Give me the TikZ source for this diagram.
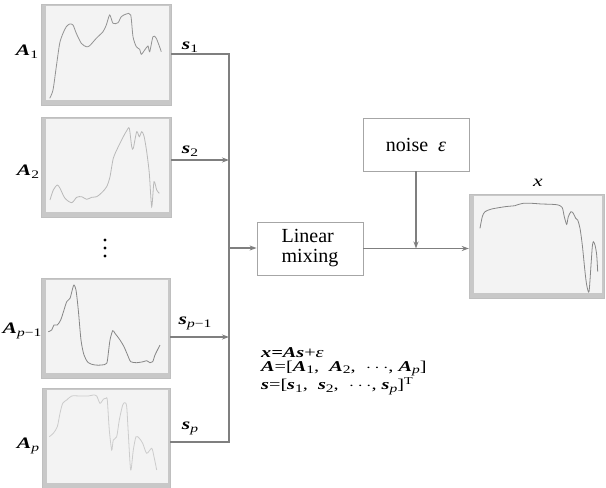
\documentclass[tikz,border=0pt]{standalone}
\usepackage{fontspec}
\setmainfont{Liberation Serif}
\usetikzlibrary{arrows.meta}
\definecolor{wiregray}{HTML}{7F7F7F}
\definecolor{framegray}{HTML}{C8C8C8}
\definecolor{areagray}{HTML}{F3F3F3}
\newcommand{\bi}[1]{\textbf{\textit{#1}}}
\newcommand{\sbs}[1]{\raisebox{-0.4ex}{\fontsize{11.5}{11.5}\selectfont #1}}
\newcommand{\wide}[1]{\scalebox{1.35}[1]{#1}}

\begin{document}
\begin{tikzpicture}[x=1pt,y=-1pt,
  spec/.style={draw=gray!50,fill=framegray,inner sep=0pt},
  wire/.style={wiregray,line width=1.2pt},
  feed/.style={wire,-{Stealth[length=7pt,width=5pt]}},
  blk/.style={draw=gray!70,line width=0.8pt,fill=white,inner sep=0pt,
    minimum width=106pt,minimum height=53pt,align=left,
    font=\fontsize{20}{20}\selectfont},
  lbl/.style={inner sep=0pt,font=\fontsize{16}{16}\selectfont},
  curve/.style={line width=0.8pt,smooth,tension=0.45}]
\useasboundingbox (0,0) rectangle (606,488);

% spectra
\node[spec,minimum width=130pt,minimum height=101pt] (A1) at (106,54.5) {};
\node[spec,minimum width=130pt,minimum height=100pt] (A2) at (106,167) {};
\node[spec,minimum width=129pt,minimum height=100pt] (Ap1) at (105.5,328) {};
\node[spec,minimum width=128pt,minimum height=100pt] (Ap) at (106,438) {};
\node[spec,minimum width=135pt,minimum height=104pt] (X) at (536.5,246) {};
\foreach \p in {A1,A2,Ap1,Ap,X}
{
  \fill[areagray] ([shift={(5pt,-2pt)}]\p.north west) rectangle ([shift={(-2pt,5pt)}]\p.south east);
}

\draw[curve,gray!85] plot coordinates {(49.7,98.3) (53,90) (56.3,66.7) (59.7,43.3) (63,33.3)
  (66.3,26.7) (69.7,24) (73,25) (76.3,33.3) (81.3,43.3) (86.3,46.7) (89.7,45.7) (96.3,38.3)
  (103,31.7) (106.3,25) (109.7,15) (113,23.3) (118,22.7) (121.3,16.7) (126.3,14) (130.7,15)
  (133,36.7) (136.3,46.7) (139.7,49.3) (141.3,54.3) (144.7,50) (148,46) (149.7,51.7)
  (153,36.7) (156.3,38.3) (161.3,51.7)};
\draw[curve,gray!55] plot coordinates {(50,200) (53.3,190) (57.3,185) (60,188.3) (65,198.3)
  (71.7,202.7) (76.7,197.3) (81.7,196.7) (86.7,199.3) (91.7,197.3) (96.7,196.7) (101.7,192.7)
  (106.7,186.7) (110,176.7) (113.3,158.3) (118.3,146.7) (123.3,136.7) (126.7,130.7)
  (129.3,128.3) (131.7,146.7) (133.3,148.3) (136.7,131.7) (139.3,136.7) (141.7,131.7)
  (144,136) (146.7,151.7) (149.3,173.3) (151.7,206.7) (154,181.7) (156.7,190) (159.3,193.3)};
\draw[curve,gray!95] plot coordinates {(48.3,331.7) (51.7,330) (54,325) (57.3,325)
  (60.7,320) (64,310) (66.7,301.7) (70,298.3) (72.7,288.3) (74,285) (76,290) (78.3,310)
  (81,340) (84,355) (88.3,362.7) (95,365) (101.7,365) (106.7,363.3) (108.3,353.3) (110,340)
  (112.7,330.7) (115,333.3) (120,340) (124,346.7) (128.3,356.7) (130.7,361.7) (136.7,362.7)
  (143.3,361.7) (146.7,360.7) (150,362.7) (152.7,361.7) (155,355) (158.3,348.3) (160,345)};
\draw[curve,gray!40] plot coordinates {(49.3,436.7) (53.3,433.3) (57.3,426.7) (60,413.3)
  (62.7,403.3) (66.7,400) (71.7,396) (80,396) (88.3,396) (93.3,395) (96.7,396) (100,403.3)
  (103.3,399.3) (106,398.3) (107.3,400) (109.3,430) (111.7,450) (113.3,440) (116.7,436.7)
  (119.3,420) (122.7,405) (125,402.7) (126.7,406.7) (128.3,433.3) (130.7,470) (133.3,450)
  (136,436.7) (139.3,438.3) (142.7,443.3) (146.7,453.3) (151.7,448.3) (154,456.7) (156.7,470)};
\draw[curve,gray!95] plot coordinates {(480,228.3) (482.3,216.7) (485,211.7) (491.7,209)
  (505,206.7) (515,205.7) (516.7,205) (523.3,203.3) (531.7,203.3) (541.7,204) (551.7,204.3)
  (558.3,205) (562.3,207.7) (564.3,216.7) (566.7,224.3) (568.3,216.7) (571,211.7) (573.3,213.3)
  (575.7,218.3) (577.7,220) (580,228.3) (582.3,245) (585,271.7) (586.7,285) (589,291.7)
  (591,265) (592.3,246.7) (593.3,241.7) (595,245) (596.7,255) (597.7,271.7)};

% labels of the sources
\node[lbl] (lA1) at (27,52) {\wide{\bi{A}\sbs{1}}};
\node[lbl] (lA2) at (28,172) {\wide{\bi{A}\sbs{2}}};
\node[lbl] (lAp1) at (22,331) {\wide{\bi{A}\sbs{\textit{p}−1}}};
\node[lbl] (lAp) at (28,446) {\wide{\bi{A}\sbs{\textit{p}}}};
\foreach \y in {240,248,256}
  \fill (105,\y) circle [radius=1.6pt];

% blocks
\node[blk] (mix) at (310,248.5) {Linear\\mixing};
\node[blk] (noise) at (416,144.5) {noise\ \ \textit{ε}};
\node[lbl] (lx) at (538,183) {\wide{\textit{x}}};

% wiring
\coordinate (t1) at (229,54);
\coordinate (b2) at (229,160);
\coordinate (mixin) at (229,248);
\coordinate (b3) at (229,337);
\coordinate (t4) at (229,442);
\draw[wire] (A1.east |- t1) -- (t1) -- (t4) -- (Ap.east |- t4);
\draw[feed] (A2.east |- b2) -- (b2);
\draw[feed] (Ap1.east |- b3) -- (b3);
\draw[feed] (mixin) -- (mix.west |- mixin);
\draw[feed] (mix.east) -- (X.west |- mix.east);
\draw[feed] (noise.south) -- (noise.south |- mix.east);

\node[lbl] (s1) at (190,47) {\wide{\bi{s}\sbs{1}}};
\node[lbl] (s2) at (190,151) {\wide{\bi{s}\sbs{2}}};
\node[lbl] (sp1) at (195,323) {\wide{\bi{s}\sbs{\textit{p}−1}}};
\node[lbl] (sp) at (190,428) {\wide{\bi{s}\sbs{\textit{p}}}};

% model
\node[lbl,anchor=west,align=left,font=\fontsize{15}{14}\selectfont] (eq) at (261,371)
  {\wide{\bi{x=As}+\textit{ε}}\\
   \wide{\bi{A}=[\bi{A}\sbs{1}, \ \bi{A}\sbs{2}, \ $\cdots$, \bi{A}\sbs{\textit{p}}]}\\
   \wide{\bi{s}=[\bi{s}\sbs{1}, \ \bi{s}\sbs{2}, \ $\cdots$, \bi{s}\sbs{\textit{p}}]\textsuperscript{T}}};
\end{tikzpicture}
\end{document}
